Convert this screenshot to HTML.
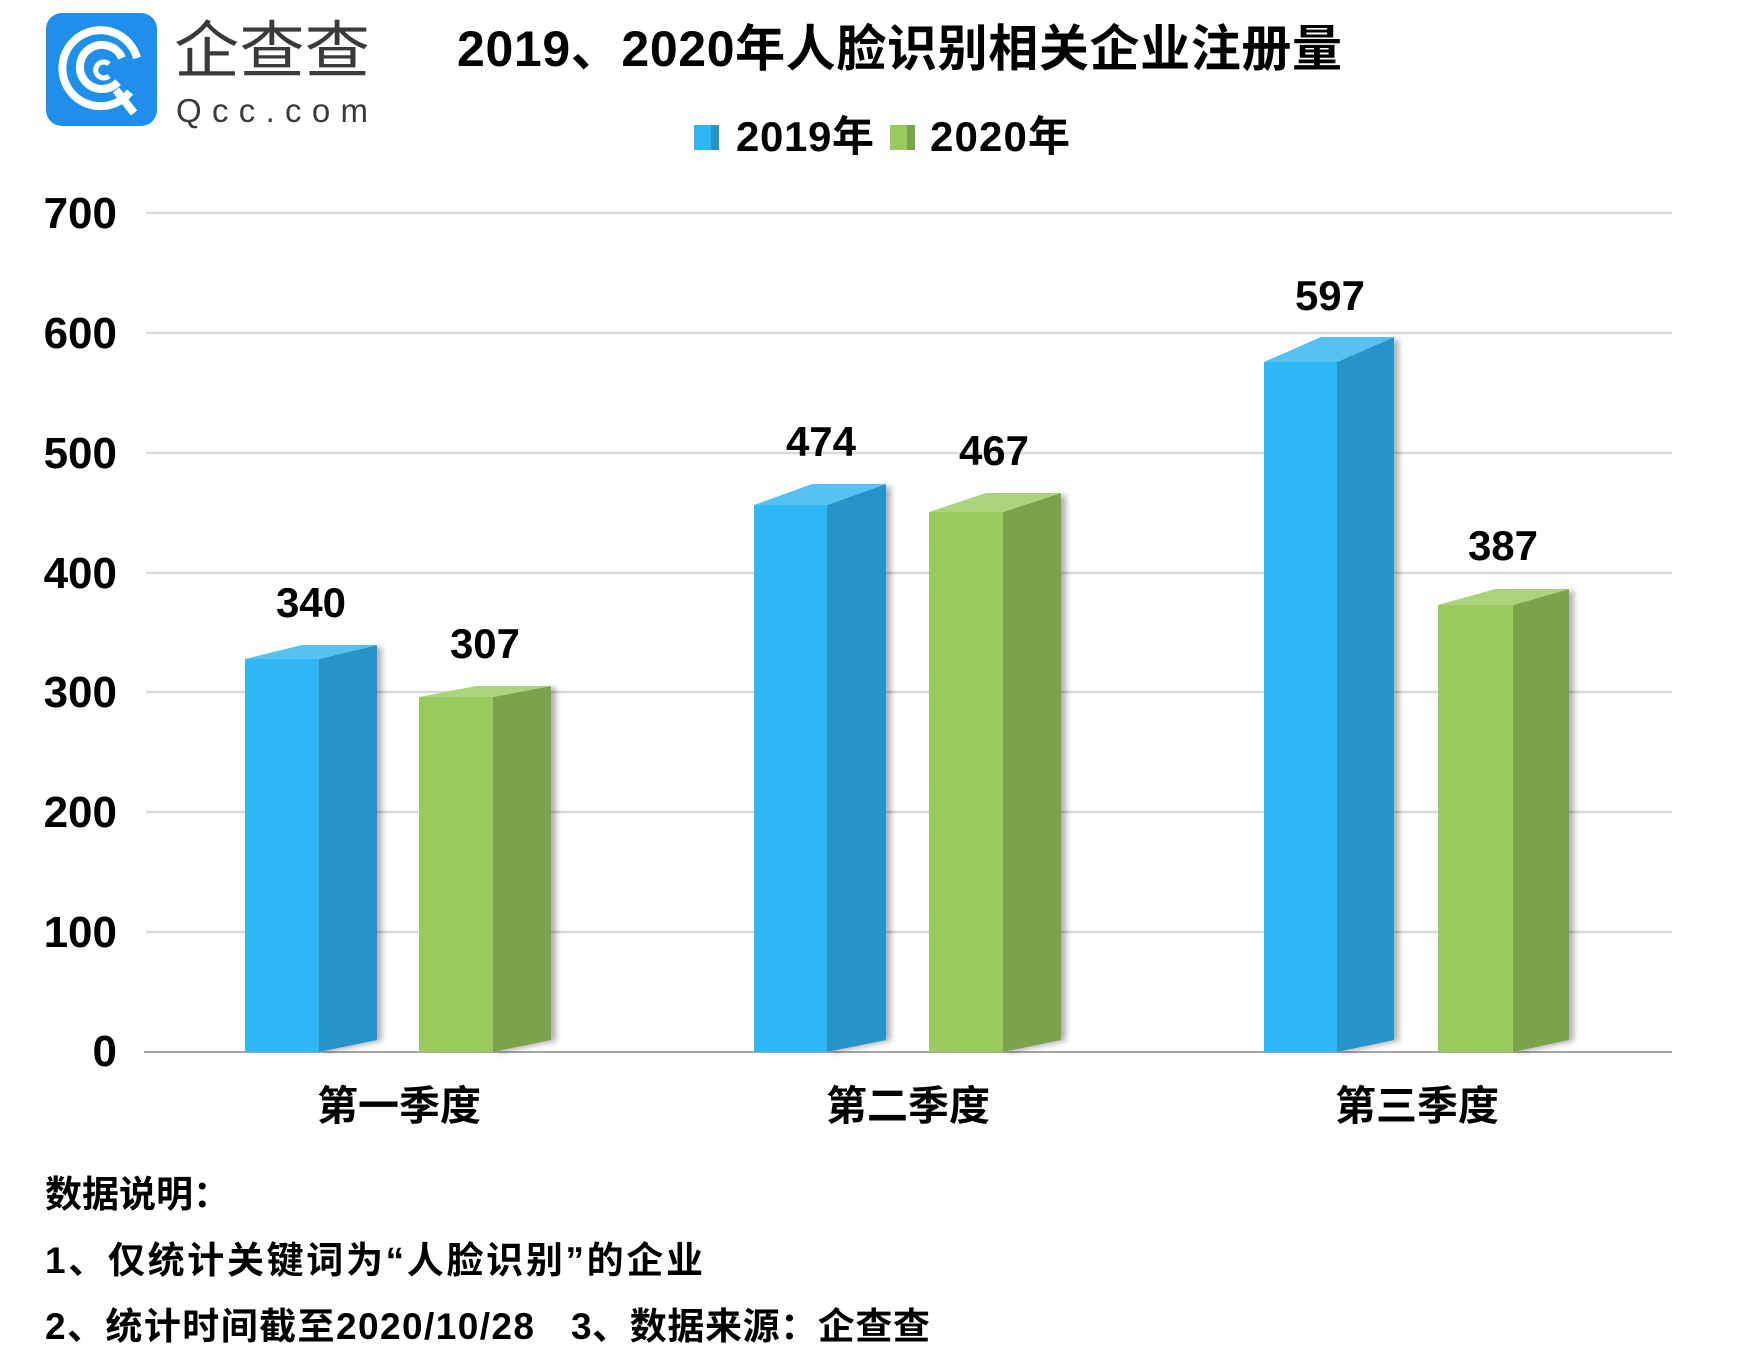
<!DOCTYPE html>
<html>
<head>
<meta charset="utf-8">
<style>
html,body{margin:0;padding:0;background:#fff;}
svg{display:block;}
text{font-family:"Liberation Sans","Noto Sans CJK SC",sans-serif;font-weight:bold;fill:#000;}
.cjk{font-family:"Noto Sans CJK SC","Liberation Sans",sans-serif;}
</style>
</head>
<body>
<svg width="1754" height="1364" viewBox="0 0 1754 1364" xmlns="http://www.w3.org/2000/svg">
<defs>
<filter id="sh" x="-20%" y="-10%" width="150%" height="130%">
<feDropShadow dx="5" dy="1" stdDeviation="3" flood-color="#000" flood-opacity="0.3"/>
</filter>
</defs>
<rect width="1754" height="1364" fill="#fff"/>

<!-- Logo -->
<rect x="46" y="13" width="111" height="113" rx="16" fill="#1E8FEA"/>
<g fill="none" stroke="#fff" stroke-linecap="butt">
<path d="M 130 92 A 38 38 0 1 1 137 58" stroke-width="8"/>
<path d="M 118 82 A 22 22 0 1 1 122 58" stroke-width="8"/>
<path d="M 109 64 A 8 8 0 1 0 109 76" stroke-width="5"/>
<line x1="116" y1="90" x2="134" y2="113" stroke-width="8"/>
</g>
<text x="174" y="72" class="cjk" font-size="62" style="font-weight:normal;fill:#3a3a3a" textLength="196" lengthAdjust="spacingAndGlyphs">企查查</text>
<text x="176" y="122" font-size="33" style="font-weight:normal;fill:#3a3a3a" textLength="192">Qcc.com</text>

<!-- Title -->
<text x="457" y="66" font-size="50" textLength="885">2019、2020年人脸识别相关企业注册量</text>

<!-- Legend -->
<rect x="694" y="125" width="17" height="25" fill="#2DB7F5"/>
<rect x="711" y="125" width="8" height="25" fill="#2594C8"/>
<text x="736" y="151" font-size="42" textLength="138">2019年</text>
<rect x="890" y="125" width="17" height="25" fill="#9ACA5E"/>
<rect x="907" y="125" width="8" height="25" fill="#7BA34C"/>
<text x="930" y="151" font-size="42" textLength="140">2020年</text>

<!-- Gridlines -->
<g stroke="#d9d9d9" stroke-width="2.5">
<line x1="146" y1="213" x2="1672" y2="213"/>
<line x1="146" y1="333" x2="1672" y2="333"/>
<line x1="146" y1="453" x2="1672" y2="453"/>
<line x1="146" y1="573" x2="1672" y2="573"/>
<line x1="146" y1="692" x2="1672" y2="692"/>
<line x1="146" y1="812" x2="1672" y2="812"/>
<line x1="146" y1="932" x2="1672" y2="932"/>
</g>
<line x1="144" y1="1052" x2="1672" y2="1052" stroke="#a6a6a6" stroke-width="2"/>

<!-- Y tick labels -->
<g font-size="44" text-anchor="end">
<text x="117" y="228">700</text>
<text x="117" y="348">600</text>
<text x="117" y="468">500</text>
<text x="117" y="588">400</text>
<text x="117" y="707">300</text>
<text x="117" y="827">200</text>
<text x="117" y="947">100</text>
<text x="117" y="1066">0</text>
</g>

<!-- Bars -->
<!-- Q1 blue 340 -->
<g filter="url(#sh)">
<polygon points="319,659 377,645 377,1040 319,1052" fill="#2594C8"/>
</g>
<rect x="245" y="659" width="74" height="393" fill="#2DB7F5"/>
<polygon points="245,659 319,659 377,645 302,645" fill="#55C2F2"/>
<!-- Q1 green 307 -->
<g filter="url(#sh)">
<polygon points="493,697 551,686 551,1040 493,1052" fill="#7BA34C"/>
</g>
<rect x="419" y="697" width="74" height="355" fill="#9ACA5E"/>
<polygon points="419,697 493,697 551,686 476,686" fill="#ACD37C"/>
<!-- Q2 blue 474 -->
<g filter="url(#sh)">
<polygon points="827,505 886,484 886,1040 827,1052" fill="#2594C8"/>
</g>
<rect x="754" y="505" width="73" height="547" fill="#2DB7F5"/>
<polygon points="754,505 827,505 886,484 812,484" fill="#55C2F2"/>
<!-- Q2 green 467 -->
<g filter="url(#sh)">
<polygon points="1003,512 1061,493 1061,1040 1003,1052" fill="#7BA34C"/>
</g>
<rect x="929" y="512" width="74" height="540" fill="#9ACA5E"/>
<polygon points="929,512 1003,512 1061,493 986,493" fill="#ACD37C"/>
<!-- Q3 blue 597 -->
<g filter="url(#sh)">
<polygon points="1337,362 1394,337 1394,1040 1337,1052" fill="#2594C8"/>
</g>
<rect x="1264" y="362" width="73" height="690" fill="#2DB7F5"/>
<polygon points="1264,362 1337,362 1394,337 1321,337" fill="#55C2F2"/>
<!-- Q3 green 387 -->
<g filter="url(#sh)">
<polygon points="1513,605 1569,589 1569,1040 1513,1052" fill="#7BA34C"/>
</g>
<rect x="1438" y="605" width="75" height="447" fill="#9ACA5E"/>
<polygon points="1438,605 1513,605 1569,589 1495,589" fill="#ACD37C"/>

<!-- Value labels -->
<g font-size="42" text-anchor="middle">
<text x="311" y="617">340</text>
<text x="485" y="658">307</text>
<text x="821" y="456">474</text>
<text x="994" y="465">467</text>
<text x="1330" y="310">597</text>
<text x="1503" y="560">387</text>
</g>

<!-- Category labels -->
<g font-size="41" text-anchor="middle">
<text x="399" y="1120">第一季度</text>
<text x="908" y="1120">第二季度</text>
<text x="1417" y="1120">第三季度</text>
</g>

<!-- Footer -->
<text x="45" y="1207" font-size="37">数据说明：</text>
<text x="45" y="1273" font-size="37" textLength="658">1、仅统计关键词为“人脸识别”的企业</text>
<text x="45" y="1339" font-size="37" textLength="489">2、统计时间截至2020/10/28</text>
<text x="571" y="1339" font-size="37" textLength="359">3、数据来源：企查查</text>
</svg>
</body>
</html>
